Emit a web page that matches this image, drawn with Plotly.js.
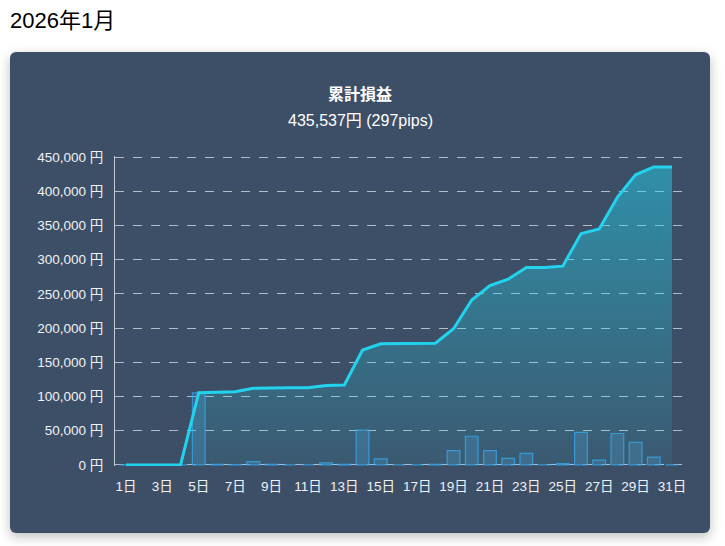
<!DOCTYPE html>
<html>
<head>
<meta charset="utf-8">
<script src="https://cdn.plot.ly/plotly-3.0.1.min.js"></script>
<style>
  html, body { margin:0; padding:0; background:#ffffff; width:725px; height:546px; overflow:hidden; }
  body { font-family: "Liberation Sans", Arial, "Noto Sans CJK JP", sans-serif; }
  #pageTitle { position:absolute; left:10px; top:8px; font-size:22px; color:#000; line-height:26px; }
  #card { position:absolute; left:10px; top:52px; width:700px; height:481px; background:#3d4f66;
          border-radius:6px; box-shadow:0 4px 12px rgba(0,0,0,0.25); }
  #chart { position:absolute; left:0; top:0; width:700px; height:481px; }
</style>
</head>
<body>
<div id="pageTitle">2026年1月</div>
<div id="card"><div id="chart"></div></div>
<script>
const days = ["1日","2日","3日","4日","5日","6日","7日","8日","9日","10日","11日","12日","13日","14日","15日","16日","17日","18日","19日","20日","21日","22日","23日","24日","25日","26日","27日","28日","29日","30日","31日"];
const dailyProfit = [0,0,0,0,105500,1000,500,5000,1000,0,0,3000,1000,51000,9000,0,0,1000,21000,42000,21000,9500,17000,0,2000,47500,7000,46000,33000,11537,0];
const cumulativeProfit = [0,0,0,0,105500,106500,107000,112000,113000,113000,113000,116000,117000,168000,177000,177000,177000,178000,199000,241000,262000,271500,288500,288500,290500,338000,345000,391000,424000,435537,435537];
const xTickLabels = ["1日","3日","5日","7日","9日","11日","13日","15日","17日","19日","21日","23日","25日","27日","29日","31日"];
const yTickValues = [0,50000,100000,150000,200000,250000,300000,350000,400000,450000];
const yTickLabels = ["0 円","50,000 円","100,000 円","150,000 円","200,000 円","250,000 円","300,000 円","350,000 円","400,000 円","450,000 円"];
const chartTitle = "累計損益";
const chartSubtitle = "435,537円 (297pips)";

const fontFam = '"Liberation Sans", Arial, "Noto Sans CJK JP", sans-serif';
const M = { l: 105, r: 28, t: 104, b: 67 };
const W = 700, H = 481;
const titleX = (W / 2 - M.l) / (W - M.l - M.r);

const traces = [
  {
    type: 'scatter', mode: 'lines', x: days, y: cumulativeProfit,
    line: { color: '#22d3ee', width: 3 },
    fill: 'tozeroy',
    fillgradient: { type: 'vertical', start: 0, stop: 450000,
      colorscale: [[0, 'rgba(34,211,238,0.08)'], [1, 'rgba(34,211,238,0.5)']] },
    hoverinfo: 'skip', showlegend: false
  },
  {
    type: 'bar', x: days, y: dailyProfit,
    marker: { color: 'rgba(80,150,210,0.28)', line: { color: 'rgba(54,162,235,0.8)', width: 1.2 } },
    hoverinfo: 'skip', showlegend: false
  }
];

const layout = {
  width: W, height: H,
  paper_bgcolor: 'rgba(0,0,0,0)', plot_bgcolor: 'rgba(0,0,0,0)',
  margin: M,
  font: { family: fontFam, color: '#f0f2f5', size: 13.5 },
  bargap: 0.3,
  showlegend: false,
  annotations: [
    { text: '<b>' + chartTitle + '</b>', xref: 'paper', yref: 'paper', x: titleX, xanchor: 'center',
      y: 1, yshift: 105 - 43, yanchor: 'middle', showarrow: false,
      font: { size: 16, color: '#ffffff', family: fontFam } },
    { text: chartSubtitle, xref: 'paper', yref: 'paper', x: titleX, xanchor: 'center',
      y: 1, yshift: 105 - 69.5, yanchor: 'middle', showarrow: false,
      font: { size: 16, color: '#ffffff', family: fontFam } }
  ],
  xaxis: {
    type: 'category', range: [-0.6, 30.55],
    tickvals: xTickLabels, ticktext: xTickLabels,
    showgrid: false, zeroline: false, showline: false,
    ticks: '', ticklen: 0, ticklabelstandoff: 10,
    tickfont: { size: 13.5, color: '#f0f2f5' },
    fixedrange: true
  },
  yaxis: {
    range: [-1500, 451500], tickvals: yTickValues, ticktext: yTickLabels,
    showgrid: true, gridcolor: 'rgba(220,225,232,0.75)', griddash: 'dash', gridwidth: 1,
    zeroline: false, showline: true, linecolor: 'rgba(220,225,232,0.85)', linewidth: 1,
    ticks: '', tickfont: { size: 13.5, color: '#f0f2f5' }, ticklabelstandoff: 8,
    fixedrange: true
  }
};

Plotly.newPlot('chart', traces, layout, { displayModeBar: false, staticPlot: true });
</script>
</body>
</html>
